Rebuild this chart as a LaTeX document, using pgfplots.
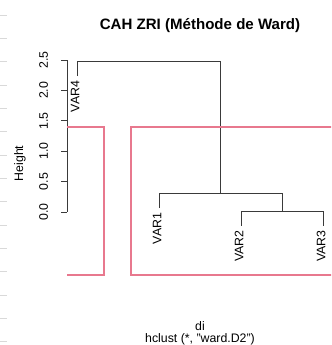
\documentclass[border=0pt]{standalone}
\usepackage{fontspec}
\setmainfont{Liberation Sans}
\usepackage{pgfplots}
\pgfplotsset{compat=1.18}
\definecolor{rred}{HTML}{E8788E}
\definecolor{dgray}{HTML}{3A3A3A}
\newcommand{\lf}{\fontsize{9.25}{11}\selectfont}
\begin{document}
\begin{tikzpicture}
\path[use as bounding box] (0,0) rectangle (248.25pt,-258.75pt);
\clip (0,0) rectangle (248.25pt,-258.75pt);
\foreach \k in {0,...,14} \draw[gray!30, line width=0.6pt] (0,{-11.25pt-17.5pt*\k}) -- (5.25pt,{-11.25pt-17.5pt*\k});
\begin{axis}[
  at={(50.4pt,-206.4pt)}, anchor=south west,
  x=61.5pt, y=45.6pt,
  xmin=0.88, xmax=4.12, ymin=-1.04, ymax=2.6,
  enlargelimits=false, clip=false,
  axis line style={draw=none},
  xtick=\empty,
  ytick={0,0.5,1,1.5,2,2.5},
  ytick pos=left,
  tick align=outside, major tick length=4.5pt,
  y tick style={dgray, line width=0.6pt},
  yticklabel style={font=\lf, rotate=90, anchor=south},
  yticklabel shift=6.4pt,
  /pgf/number format/fixed, /pgf/number format/fixed zerofill,
  /pgf/number format/precision=1, /pgf/number format/assume math mode=true,
]
% y axis line (0 to 2.5 only, as in R)
\addplot[dgray, line width=0.6pt] coordinates {(0.88,0) (0.88,2.5)};
% dendrogram
\addplot[dgray, line width=0.6pt] coordinates {(1,2.234) (1,2.48) (2.75,2.48) (2.75,0.31)};
\addplot[dgray, line width=0.6pt] coordinates {(2,0.064) (2,0.31) (3.5,0.31) (3.5,0.016)};
\addplot[dgray, line width=0.6pt] coordinates {(3,-0.23) (3,0.016) (4,0.016) (4,-0.23)};
% rect.hclust k=2
\addplot[rred, line width=1.1pt] coordinates {(0.88,1.395) (1.33,1.395) (1.33,-1.04) (0.88,-1.04)};
\addplot[rred, line width=1.1pt] coordinates {(4.4,1.395) (1.66,1.395) (1.66,-1.04) (4.4,-1.04)};
% leaf labels
\node[font=\lf, xshift=-1.5pt, rotate=90, anchor=east] at (axis cs:1,2.234) {VAR4};
\node[font=\lf, xshift=-1.5pt, rotate=90, anchor=east] at (axis cs:2,0.064) {VAR1};
\node[font=\lf, xshift=-1.5pt, rotate=90, anchor=east] at (axis cs:3,-0.23) {VAR2};
\node[font=\lf, xshift=-1.5pt, rotate=90, anchor=east] at (axis cs:4,-0.23) {VAR3};
\end{axis}
\node[font=\bfseries\fontsize{11.3}{13}\selectfont, anchor=base] at (150pt,-22.5pt) {CAH ZRI (Méthode de Ward)};
\node[font=\lf, rotate=90, anchor=base] at (17.25pt,-122.6pt) {Height};
\node[font=\lf, anchor=base] at (150pt,-248pt) {di};
\node[font=\lf, anchor=base] at (150pt,-256.6pt) {hclust (*, "ward.D2")};
\end{tikzpicture}
\end{document}
